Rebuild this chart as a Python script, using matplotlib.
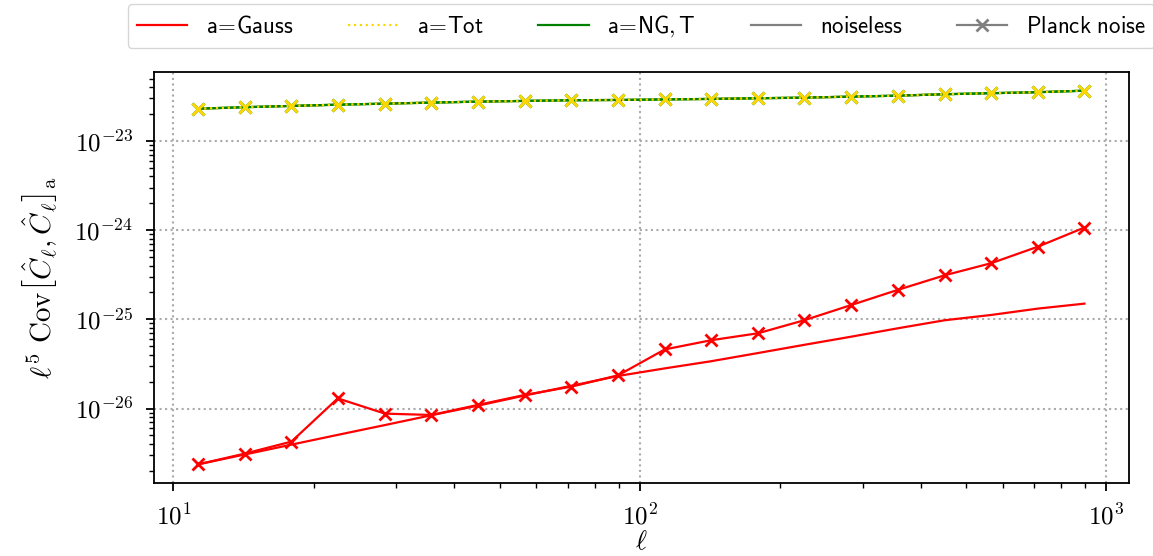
import math
import matplotlib
matplotlib.use("Agg")
import matplotlib.pyplot as plt
from matplotlib.lines import Line2D
from matplotlib.ticker import FuncFormatter, LogLocator, NullFormatter

plt.rcParams['mathtext.fontset'] = 'cm'

# multipole bin centres
ell = [11.3, 14.2, 17.9, 22.5, 28.4, 35.7, 45.0, 56.6, 71.3, 89.8,
       113, 142, 179, 225, 284, 357, 450, 566, 713, 897]

# l^5 Cov, noiseless
gauss_noiseless = [2.37e-27, 3.05e-27, 3.94e-27, 5.07e-27, 6.53e-27, 8.41e-27, 1.08e-26, 1.40e-26, 1.80e-26, 2.32e-26,
                   2.82e-26, 3.39e-26, 4.19e-26, 5.18e-26, 6.40e-26, 7.94e-26, 9.77e-26, 1.12e-25, 1.32e-25, 1.50e-25]
# l^5 Cov, Planck noise
gauss_planck = [2.37e-27, 3.12e-27, 4.26e-27, 1.30e-26, 8.77e-27, 8.47e-27, 1.10e-26, 1.42e-26, 1.76e-26, 2.36e-26,
                4.60e-26, 5.83e-26, 6.98e-26, 9.77e-26, 1.45e-25, 2.14e-25, 3.12e-25, 4.26e-25, 6.53e-25, 1.07e-24]
tot = [2.30e-23, 2.39e-23, 2.47e-23, 2.55e-23, 2.62e-23, 2.69e-23, 2.76e-23, 2.81e-23, 2.86e-23, 2.88e-23,
       2.92e-23, 2.96e-23, 3.01e-23, 3.06e-23, 3.14e-23, 3.22e-23, 3.34e-23, 3.43e-23, 3.52e-23, 3.66e-23]
ngt = [2.30e-23, 2.39e-23, 2.47e-23, 2.55e-23, 2.62e-23, 2.69e-23, 2.76e-23, 2.81e-23, 2.86e-23, 2.88e-23,
       2.92e-23, 2.96e-23, 3.01e-23, 3.06e-23, 3.14e-23, 3.22e-23, 3.34e-23, 3.43e-23, 3.52e-23, 3.66e-23]

fig = plt.figure(figsize=(11.53, 5.56), dpi=100)
ax = fig.add_axes([0.1335, 0.1313, 0.8455, 0.7392])

lw = 1.6
ms = 9
mew = 2

# noiseless
ax.plot(ell, gauss_noiseless, color='red', lw=lw)
ax.plot(ell, ngt, color='green', lw=lw)
ax.plot(ell, tot, color='gold', lw=lw, ls=':')
# planck noise
ax.plot(ell, gauss_planck, color='red', lw=lw, marker='x', ms=ms, mew=mew)
ax.plot(ell, ngt, color='green', lw=lw, marker='x', ms=ms, mew=mew)
ax.plot(ell, tot, color='gold', lw=lw, ls=':', marker='x', ms=ms, mew=mew)

ax.set_xscale('log')
ax.set_yscale('log')

fmt = FuncFormatter(lambda v, p: r'$10^{%d}$' % round(math.log10(v)))
ax.xaxis.set_major_formatter(fmt)
ax.yaxis.set_major_formatter(fmt)
ax.yaxis.set_major_locator(LogLocator(base=10, numticks=20))
ax.yaxis.set_minor_locator(LogLocator(base=10, subs=range(2, 10), numticks=20))
ax.xaxis.set_minor_formatter(NullFormatter())
ax.yaxis.set_minor_formatter(NullFormatter())

ax.tick_params(which='major', length=6, width=1.3, labelsize=18, pad=9)
ax.tick_params(which='minor', length=3.3, width=1.0)
for s in ax.spines.values():
    s.set_linewidth(1.3)

ax.grid(True, which='major', ls=':', color='#aaaaaa', lw=1.5)

ax.set_xlabel(r'$\ell$', fontsize=19, labelpad=0)
ax.set_ylabel(r'$\ell^5\ \mathrm{Cov}\left[\hat{C}_\ell,\hat{C}_\ell\right]_{\mathrm{a}}$',
              fontsize=21, labelpad=10)

handles = [
    Line2D([], [], color='red', lw=lw),
    Line2D([], [], color='gold', lw=lw, ls=':'),
    Line2D([], [], color='green', lw=lw),
    Line2D([], [], color='gray', lw=lw),
    Line2D([], [], color='gray', lw=lw, marker='x', ms=ms, mew=mew),
]
labels = [r'$\mathsf{a}\!=\!\mathsf{Gauss}$', r'$\mathsf{a}\!=\!\mathsf{Tot}$',
          r'$\mathsf{a}\!=\!\mathsf{NG,T}$', r'$\mathsf{noiseless}$', r'$\mathsf{Planck\ noise}$']
ax.legend(handles, labels, loc='lower center', bbox_to_anchor=(0.5, 1.058), borderaxespad=0,
          ncol=5, fontsize=16.5, handlelength=2.2, handletextpad=0.8, columnspacing=2.4)

fig.savefig('out.png')
